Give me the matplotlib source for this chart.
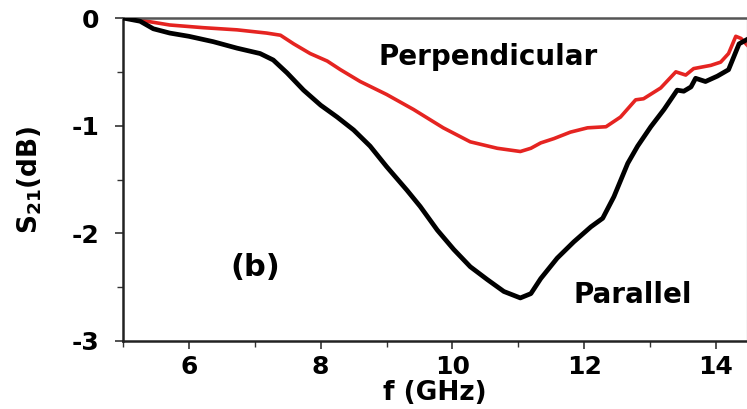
import matplotlib.pyplot as plt
from matplotlib.ticker import MultipleLocator

plt.rcParams["font.family"] = ["DejaVu Sans"]
plt.rcParams["font.weight"] = "bold"
plt.rcParams["mathtext.default"] = "bf"
plt.rcParams["axes.unicode_minus"] = False

# S21 vs frequency, parallel polarisation
f_par = [5.0, 5.26, 5.46, 5.71, 6.0, 6.37, 6.73, 7.08, 7.28, 7.49, 7.74,
         8.0, 8.25, 8.5, 8.75, 9.0, 9.31, 9.51, 9.77, 10.02, 10.27, 10.53,
         10.78, 11.03, 11.19, 11.34, 11.59, 11.84, 12.1, 12.28, 12.45,
         12.66, 12.81, 13.01, 13.21, 13.41, 13.51, 13.62, 13.69, 13.84,
         14.02, 14.19, 14.27, 14.35, 14.47]
s21_par = [0.0, -0.03, -0.10, -0.14, -0.17, -0.22, -0.28, -0.33, -0.39,
           -0.51, -0.67, -0.81, -0.92, -1.04, -1.19, -1.38, -1.60, -1.75,
           -1.97, -2.15, -2.31, -2.43, -2.54, -2.60, -2.56, -2.42, -2.23,
           -2.08, -1.94, -1.86, -1.66, -1.35, -1.19, -1.01, -0.85, -0.67,
           -0.68, -0.64, -0.56, -0.59, -0.54, -0.48, -0.36, -0.24, -0.20]

# S21 vs frequency, perpendicular polarisation
f_perp = [5.0, 5.26, 5.71, 6.22, 6.73, 7.18, 7.39, 7.59, 7.84, 8.1, 8.3,
          8.6, 9.0, 9.41, 9.86, 10.27, 10.68, 11.03, 11.19, 11.34, 11.54,
          11.79, 12.05, 12.33, 12.55, 12.78, 12.9, 13.16, 13.39, 13.54,
          13.66, 13.92, 14.07, 14.19, 14.3, 14.38, 14.47]
s21_perp = [0.0, -0.02, -0.065, -0.09, -0.11, -0.14, -0.16, -0.24, -0.33,
            -0.40, -0.48, -0.59, -0.71, -0.85, -1.02, -1.15, -1.21, -1.24,
            -1.21, -1.16, -1.12, -1.06, -1.02, -1.01, -0.92, -0.76, -0.75,
            -0.65, -0.50, -0.53, -0.47, -0.44, -0.41, -0.33, -0.17, -0.19,
            -0.25]

fig = plt.figure(figsize=(7.47, 4.09), dpi=100)
ax = fig.add_axes([123/747, 68/409, 624/747, 323/409])

ax.plot(f_perp, s21_perp, color="#e52421", lw=2.6, zorder=2)
ax.plot(f_par, s21_par, color="black", lw=3.4, zorder=3)

ax.set_xlim(5.0, 14.47)
ax.set_ylim(-3, 0)
ax.xaxis.set_major_locator(MultipleLocator(2))
ax.xaxis.set_minor_locator(MultipleLocator(1))
ax.yaxis.set_major_locator(MultipleLocator(1))
ax.yaxis.set_minor_locator(MultipleLocator(0.5))
ax.set_xticks([6, 8, 10, 12, 14])

ax.tick_params(which="major", direction="out", length=6, width=1.2,
               color="#333333", labelsize=18, pad=4)
ax.tick_params(which="minor", direction="out", length=4, width=1.0,
               color="#333333")
ax.tick_params(axis="y", which="major", pad=11)
for lab in ax.get_xticklabels() + ax.get_yticklabels():
    lab.set_fontweight("bold")

for side in ["left", "bottom"]:
    ax.spines[side].set_linewidth(1.8)
    ax.spines[side].set_color("#222222")
ax.spines["top"].set_linewidth(1.8)
ax.spines["top"].set_color("#555555")
ax.spines["right"].set_linewidth(1.0)
ax.spines["right"].set_color("#cccccc")

ax.set_xlabel("f (GHz)", fontsize=19, fontweight="bold", labelpad=1)
ax.set_ylabel("S$_{21}$(dB)", fontsize=19, fontweight="bold", labelpad=20)

ax.text(8.88, -0.36, "Perpendicular", fontsize=20, fontweight="bold",
        va="center", ha="left")
ax.text(11.84, -2.57, "Parallel", fontsize=20, fontweight="bold",
        va="center", ha="left")
ax.text(6.63, -2.32, "(b)", fontsize=22, fontweight="bold",
        va="center", ha="left")

fig.savefig("out.png", dpi=100)
